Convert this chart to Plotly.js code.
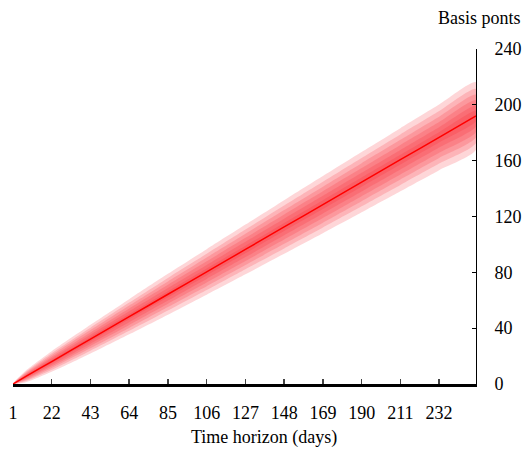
<!DOCTYPE html>
<html>
<head>
<meta charset="utf-8">
<script src="https://cdn.plot.ly/plotly-3.0.1.min.js"></script>
<style>html,body{margin:0;padding:0;background:#fff;}#chart{width:528px;height:452px;}</style>
</head>
<body>
<div id="chart"></div>
<script>
// Sample days (time horizon)
const days = [1, 8, 22, 43, 64, 85, 106, 127, 148, 169, 190, 211, 232, 252];
// Median path (basis points)
const median = [0, 5.4, 16.1, 32.1, 48.2, 64.3, 80.3, 96.4, 112.5, 128.5, 144.6, 160.7, 176.7, 192];
// Half-widths of the fan bands, outermost to innermost (basis points)
const band1 = [0, 4.2, 7.4, 10.3, 12.6, 14.6, 16.3, 17.8, 19.2, 20.5, 21.6, 22.6, 23.5, 24.2];
const band2 = [0, 3.3, 5.9, 8.2, 10.1, 11.7, 13.0, 14.2, 15.4, 16.4, 17.3, 18.1, 18.8, 19.4];
const band3 = [0, 2.6, 4.6, 6.5, 8.0, 9.2, 10.3, 11.2, 12.1, 12.9, 13.6, 14.2, 14.8, 15.3];
const band4 = [0, 1.9, 3.4, 4.8, 5.9, 6.8, 7.6, 8.3, 9.0, 9.6, 10.1, 10.6, 11.0, 11.4];
const band5 = [0, 1.3, 2.3, 3.2, 3.9, 4.5, 5.0, 5.5, 5.9, 6.3, 6.7, 7.0, 7.3, 7.5];
const band6 = [0, 0.6, 1.1, 1.6, 1.9, 2.2, 2.5, 2.7, 2.9, 3.2, 3.3, 3.5, 3.7, 3.8];
const xTicks = [1, 22, 43, 64, 85, 106, 127, 148, 169, 190, 211, 232];
const yTicks = [0, 40, 80, 120, 160, 200, 240];

const bands = [band1, band2, band3, band4, band5, band6];
const traces = [];
bands.forEach(function (hw) {
  const upper = median.map(function (m, i) { return m + hw[i]; });
  const lower = median.map(function (m, i) { return m - hw[i]; });
  traces.push({
    x: days.concat(days.slice().reverse()),
    y: upper.concat(lower.slice().reverse()),
    type: 'scatter', mode: 'lines', fill: 'toself',
    fillcolor: 'rgba(250,30,40,0.18)',
    line: {width: 0, shape: 'spline', smoothing: 0.6},
    hoverinfo: 'skip', showlegend: false
  });
});
traces.push({
  x: days, y: median, type: 'scatter', mode: 'lines',
  line: {color: '#ff0000', width: 1.5, shape: 'spline', smoothing: 0.6},
  showlegend: false
});

function serif() { return {family: 'Liberation Serif', size: 18}; }
const layout = {
  width: 528, height: 452,
  margin: {l: 13, r: 52, t: 49, b: 68},
  paper_bgcolor: '#fff', plot_bgcolor: '#fff',
  font: {family: 'Liberation Serif', size: 18, color: '#000000'},
  showlegend: false,
  xaxis: {
    range: [1, 252], tickvals: xTicks, ticktext: xTicks.map(String),
    ticks: 'inside', ticklen: 5, tickwidth: 1.5, tickcolor: '#444',
    showline: true, linecolor: '#000', linewidth: 3,
    showgrid: false, zeroline: false, ticklabelstandoff: 10,
    tickfont: serif()
  },
  yaxis: {
    side: 'right', range: [0, 240], tickvals: yTicks,
    ticks: 'inside', ticklen: 4, tickwidth: 1, tickcolor: '#000',
    showline: true, linecolor: '#000', linewidth: 1,
    showgrid: false, zeroline: false, ticklabelstandoff: 14,
    tickfont: serif()
  },
  annotations: [
    {text: 'Basis ponts', xref: 'paper', yref: 'paper', x: 1.1024, y: 1.0925,
     xanchor: 'right', yanchor: 'middle', showarrow: false, font: serif()},
    {text: 'Time horizon (days)', xref: 'paper', yref: 'paper', x: 0.5418, y: -0.161,
     xanchor: 'center', yanchor: 'middle', showarrow: false, font: serif()}
  ]
};
Plotly.newPlot('chart', traces, layout, {displayModeBar: false, staticPlot: true});
</script>
</body>
</html>
